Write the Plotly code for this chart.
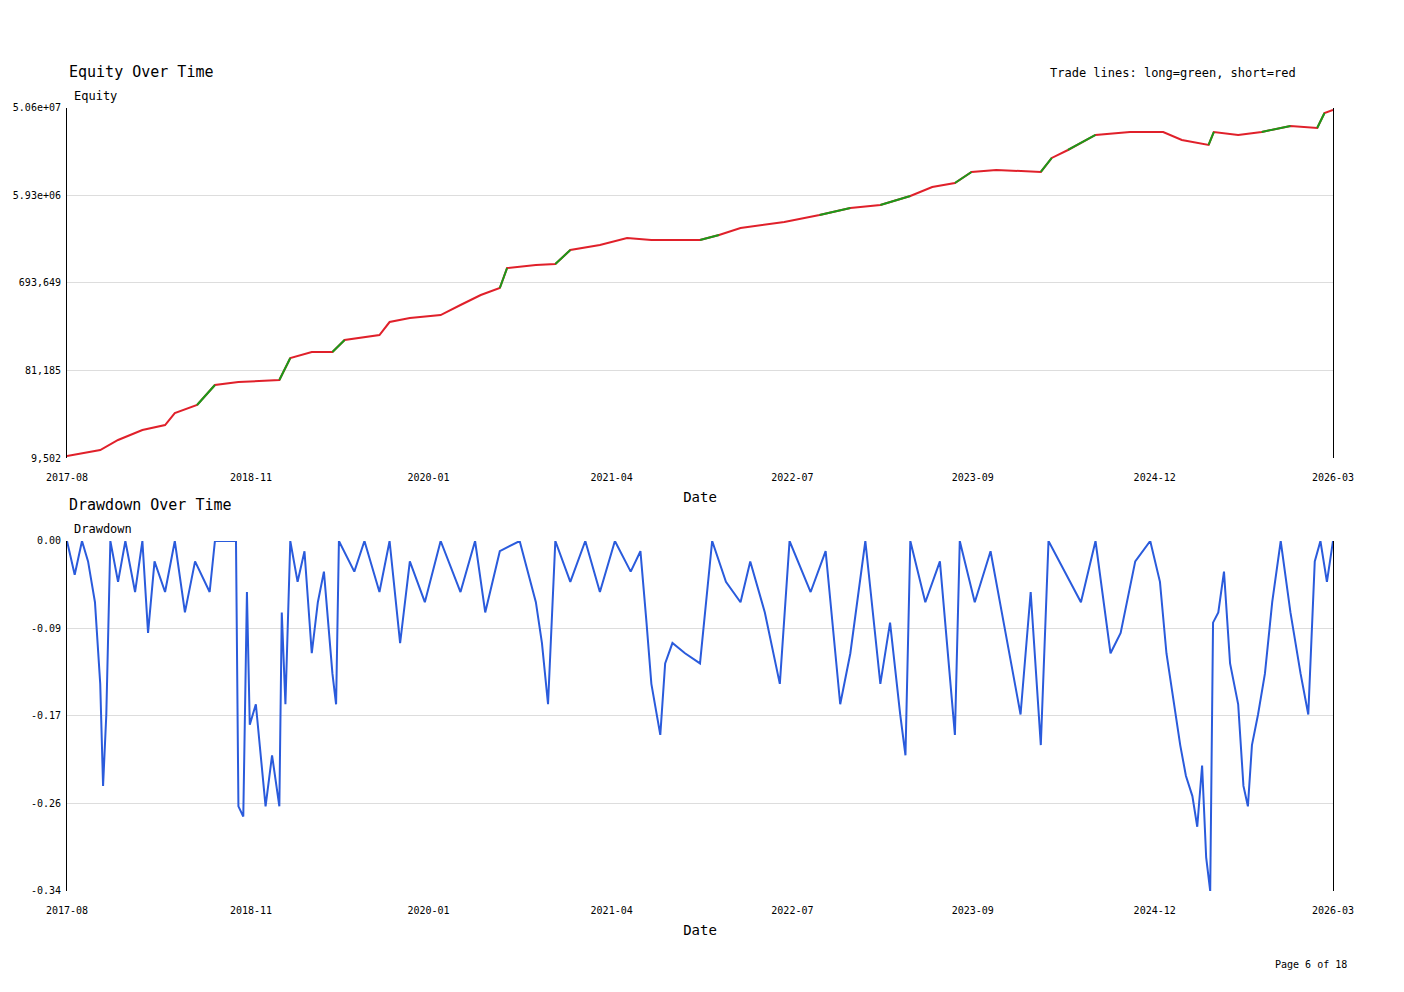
import plotly.graph_objects as go
from plotly.subplots import make_subplots

# equity curve (log scale)
eq_dates = ['2017-08-15', '2017-11-05', '2017-12-19', '2018-02-17', '2018-04-14', '2018-05-08',
            '2018-07-02', '2018-08-15', '2018-10-12', '2019-01-21', '2019-02-17', '2019-04-11',
            '2019-06-01', '2019-07-01', '2019-09-25', '2019-10-20', '2019-12-09', '2020-02-23',
            '2020-04-12', '2020-06-01', '2020-07-18', '2020-08-05', '2020-10-15', '2020-12-02',
            '2021-01-08', '2021-03-22', '2021-05-28', '2021-07-27', '2021-11-24', '2022-01-10',
            '2022-03-04', '2022-06-20', '2022-09-15', '2022-11-30', '2023-02-12', '2023-04-27',
            '2023-06-20', '2023-08-15', '2023-09-25', '2023-11-25', '2024-03-14', '2024-04-10',
            '2024-05-20', '2024-07-27', '2024-10-20', '2025-01-10', '2025-02-25', '2025-05-02',
            '2025-05-15', '2025-07-14', '2025-09-10', '2025-11-20', '2026-01-25', '2026-02-12',
            '2026-03-05']
eq_values = [9980, 11560, 14790, 18880, 21330, 28640,
             34840, 56890, 61240, 64300, 110300, 127700,
             127700, 171400, 193600, 266400, 293800, 316200,
             404300, 516500, 613800, 1002000, 1079000, 1105000,
             1556000, 1762000, 2089000, 1990000, 1990000, 2250000,
             2672000, 3097000, 3674000, 4362000, 4697000, 5852000,
             7300000, 8050000, 10540000, 11070000, 10540000, 14860000,
             18070000, 26100000, 28100000, 28100000, 23100000, 20430000,
             28100000, 26100000, 28100000, 32570000, 30990000, 44800000,
             48200000]
# side of the trade for each interval between points: L=long (green), S=short (red)
eq_sides = ['S', 'S', 'S', 'S', 'S', 'S', 'L', 'S', 'S', 'L', 'S', 'S', 'L', 'S', 'S', 'S', 'S',
            'S', 'S', 'S', 'L', 'S', 'S', 'L', 'S', 'S', 'S', 'S', 'L', 'S', 'S', 'S', 'L', 'S',
            'L', 'S', 'S', 'L', 'S', 'S', 'L', 'S', 'L', 'S', 'S', 'S', 'S', 'L', 'S', 'S', 'L',
            'S', 'L', 'S']

# drawdown series
dd_dates = ['2017-08-15', '2017-09-03', '2017-09-21', '2017-10-06', '2017-10-23', '2017-11-05',
            '2017-11-12', '2017-11-20', '2017-11-30', '2017-12-19', '2018-01-06', '2018-01-30',
            '2018-02-17', '2018-03-03', '2018-03-19', '2018-04-14', '2018-05-08', '2018-06-02',
            '2018-06-27', '2018-08-02', '2018-08-15', '2018-10-06', '2018-10-12', '2018-10-24',
            '2018-11-02', '2018-11-09', '2018-11-24', '2018-12-09', '2018-12-18', '2019-01-03',
            '2019-01-21', '2019-01-27', '2019-02-05', '2019-02-17', '2019-03-07', '2019-03-24',
            '2019-04-11', '2019-04-26', '2019-05-11', '2019-06-01', '2019-06-10', '2019-06-17',
            '2019-07-25', '2019-08-19', '2019-09-25', '2019-10-20', '2019-11-15', '2019-12-09',
            '2020-01-15', '2020-02-23', '2020-04-12', '2020-05-18', '2020-06-12', '2020-07-18',
            '2020-09-05', '2020-10-15', '2020-10-30', '2020-11-14', '2020-12-02', '2021-01-08',
            '2021-02-14', '2021-03-22', '2021-04-28', '2021-06-06', '2021-06-30', '2021-07-15',
            '2021-07-27', '2021-08-18', '2021-08-30', '2021-09-17', '2021-10-18', '2021-11-24',
            '2021-12-24', '2022-01-27', '2022-03-04', '2022-03-28', '2022-05-03', '2022-06-09',
            '2022-07-03', '2022-08-24', '2022-09-30', '2022-11-05', '2022-11-30', '2023-01-06',
            '2023-02-12', '2023-03-08', '2023-04-02', '2023-04-15', '2023-04-27', '2023-06-03',
            '2023-07-09', '2023-08-15', '2023-08-27', '2023-10-03', '2023-11-11', '2023-12-18',
            '2024-01-24', '2024-02-18', '2024-03-14', '2024-04-02', '2024-05-12', '2024-06-21',
            '2024-07-27', '2024-09-02', '2024-09-27', '2024-11-02', '2024-12-09', '2025-01-02',
            '2025-01-18', '2025-02-02', '2025-02-21', '2025-03-07', '2025-03-23', '2025-04-04',
            '2025-04-16', '2025-04-26', '2025-05-06', '2025-05-13', '2025-05-26', '2025-06-09',
            '2025-06-24', '2025-07-14', '2025-07-27', '2025-08-07', '2025-08-17', '2025-09-01',
            '2025-09-18', '2025-10-06', '2025-10-27', '2025-11-20', '2025-12-15', '2026-01-03',
            '2026-01-19', '2026-02-02', '2026-02-18', '2026-03-05']
dd_values = [0, -0.033, 0, -0.02, -0.06, -0.14,
             -0.24, -0.17, 0, -0.04, 0, -0.05,
             0, -0.09, -0.02, -0.05, 0, -0.07,
             -0.02, -0.05, 0, 0, -0.26, -0.27,
             -0.05, -0.18, -0.16, -0.22, -0.26, -0.21,
             -0.26, -0.07, -0.16, 0, -0.04, -0.01,
             -0.11, -0.06, -0.03, -0.13, -0.16, 0,
             -0.03, 0, -0.05, 0, -0.10, -0.02,
             -0.06, 0, -0.05, 0, -0.07, -0.01,
             0, -0.06, -0.10, -0.16, 0, -0.04,
             0, -0.05, 0, -0.03, -0.01, -0.08,
             -0.14, -0.19, -0.12, -0.10, -0.11, -0.12,
             0, -0.04, -0.06, -0.02, -0.07, -0.14,
             0, -0.05, -0.01, -0.16, -0.11, 0,
             -0.14, -0.08, -0.17, -0.21, 0, -0.06,
             -0.02, -0.19, 0, -0.06, -0.01, -0.09,
             -0.17, -0.05, -0.20, 0, -0.03, -0.06,
             0, -0.11, -0.09, -0.02, 0, -0.04,
             -0.11, -0.15, -0.20, -0.23, -0.25, -0.28,
             -0.22, -0.31, -0.343, -0.08, -0.07, -0.03,
             -0.12, -0.16, -0.24, -0.26, -0.20, -0.17,
             -0.13, -0.06, 0, -0.07, -0.13, -0.17,
             -0.02, 0, -0.04, 0]

x_ticks = ['2017-08-15', '2018-11-12', '2020-01-24', '2021-04-20', '2022-07-10', '2023-09-28',
           '2024-12-20', '2026-03-05']
x_labels = ['2017-08', '2018-11', '2020-01', '2021-04', '2022-07', '2023-09', '2024-12', '2026-03']
eq_ticks = [9502, 81185, 693649, 5930000, 50600000]
eq_labels = ['9,502', '81,185', '693,649', '5.93e+06', '5.06e+07']
dd_min = -0.343
dd_ticks = [0, dd_min / 4, dd_min / 2, dd_min * 3 / 4, dd_min]
dd_labels = ['0.00', '-0.09', '-0.17', '-0.26', '-0.34']

font = 'DejaVu Sans Mono'

fig = make_subplots(rows=2, cols=1, vertical_spacing=0.106)

# short (red) line for the whole curve, long segments drawn on top in green
fig.add_trace(go.Scatter(x=eq_dates, y=eq_values, mode='lines',
                         line=dict(color='#e0202a', width=2), showlegend=False), row=1, col=1)
gx, gy = [], []
for i, side in enumerate(eq_sides):
    if side == 'L':
        gx += [eq_dates[i], eq_dates[i + 1], None]
        gy += [eq_values[i], eq_values[i + 1], None]
fig.add_trace(go.Scatter(x=gx, y=gy, mode='lines',
                         line=dict(color='#1a9a1a', width=2), showlegend=False), row=1, col=1)

fig.add_trace(go.Scatter(x=dd_dates, y=dd_values, mode='lines',
                         line=dict(color='#2a5bdc', width=2), showlegend=False), row=2, col=1)

for r in (1, 2):
    fig.update_xaxes(row=r, col=1, range=[x_ticks[0], x_ticks[-1]], tickvals=x_ticks,
                     ticktext=x_labels, showgrid=False, zeroline=False, showline=False,
                     title_text='Date', title_standoff=10, ticklabelstandoff=12,
                     automargin=False, tickfont=dict(size=10))
fig.update_yaxes(row=1, col=1, type='log', range=[3.978, 7.704], tickvals=eq_ticks,
                 ticktext=eq_labels)
fig.update_yaxes(row=2, col=1, range=[dd_min, 0], tickvals=dd_ticks, ticktext=dd_labels)
fig.update_yaxes(showgrid=True, gridcolor='#dddddd', showline=True, linecolor='black',
                 mirror=True, zeroline=False, ticks='', automargin=False,
                 ticklabelstandoff=3, tickfont=dict(size=10))

annos = [
    dict(text='Equity Over Time', x=0, y=1, xref='x domain', yref='y domain', yshift=36,
         xanchor='left', yanchor='middle', showarrow=False, font=dict(size=15)),
    dict(text='Equity', x=0, y=1, xref='x domain', yref='y domain', xshift=5, yshift=12,
         xanchor='left', yanchor='middle', showarrow=False, font=dict(size=12)),
    dict(text='Trade lines: long=green, short=red', x=1, y=1, xref='x domain', yref='y domain',
         xshift=-35, yshift=35, xanchor='right', yanchor='middle', showarrow=False,
         font=dict(size=12)),
    dict(text='Drawdown Over Time', x=0, y=1, xref='x2 domain', yref='y2 domain', yshift=36,
         xanchor='left', yanchor='middle', showarrow=False, font=dict(size=15)),
    dict(text='Drawdown', x=0, y=1, xref='x2 domain', yref='y2 domain', xshift=5, yshift=12,
         xanchor='left', yanchor='middle', showarrow=False, font=dict(size=12)),
    dict(text='Page 6 of 18', x=(1349 - 67) / (1404 - 67 - 71), y=-(964 - 891) / (992 - 108 - 101),
         xref='paper', yref='paper', showarrow=False, xanchor='right', yanchor='middle',
         font=dict(size=10)),
]

fig.update_layout(width=1404, height=992, margin=dict(l=59, r=79, t=100, b=109),
                  plot_bgcolor='white', paper_bgcolor='white',
                  font=dict(family=font, size=12, color='black'), annotations=annos)

fig.write_html('out.html')
